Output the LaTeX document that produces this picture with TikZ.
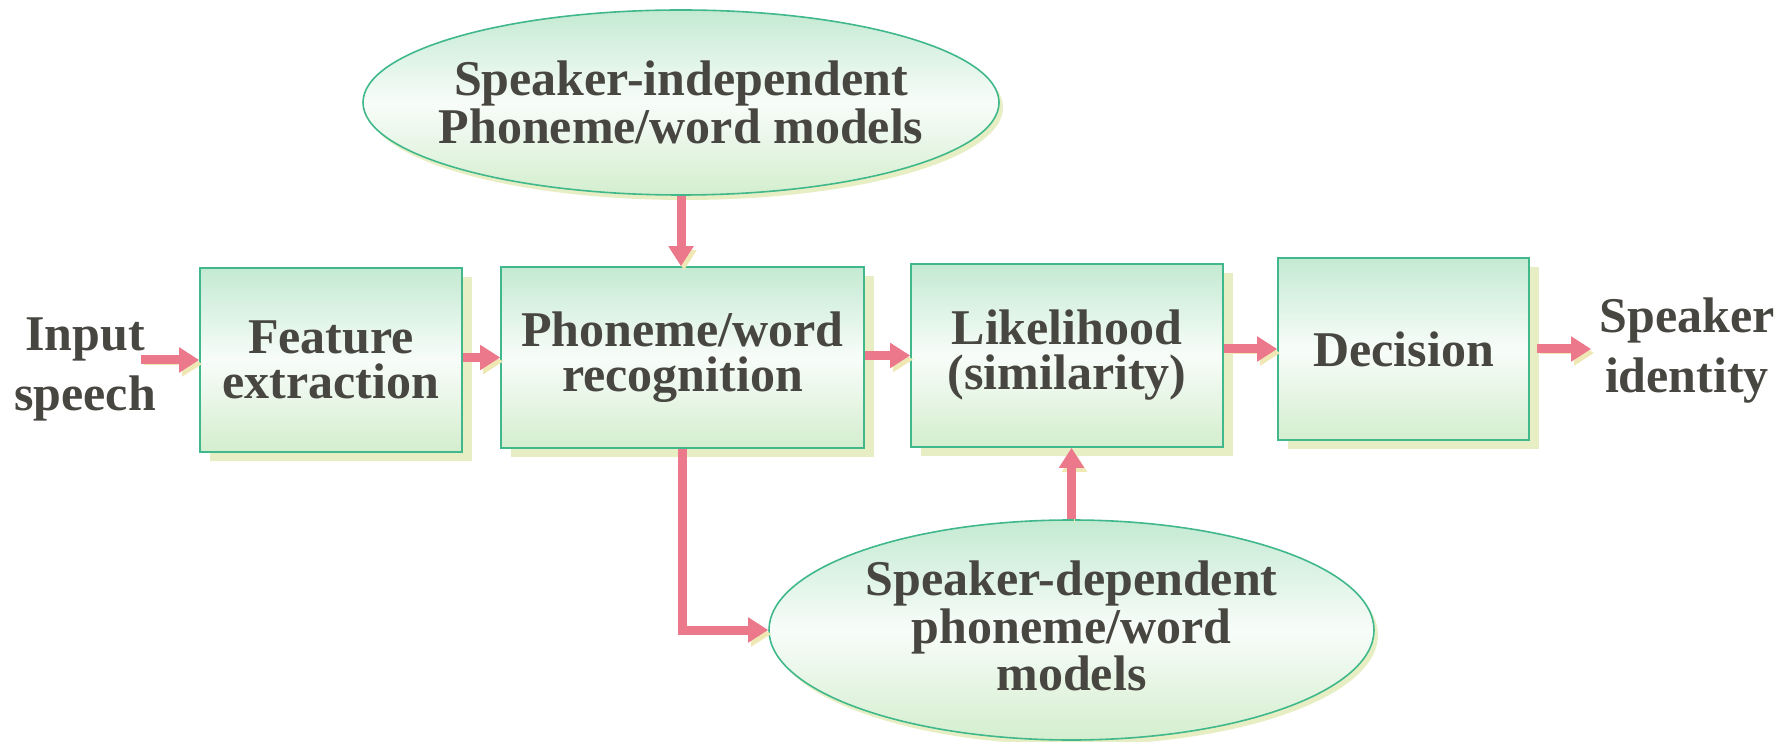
\documentclass[tikz,border=0pt]{standalone}
\usepackage{fontspec}
\setmainfont{Liberation Serif}
\usetikzlibrary{arrows.meta,shapes.geometric}
\definecolor{txt}{RGB}{72,70,64}
\definecolor{edge}{RGB}{64,184,140}
\definecolor{boxg}{RGB}{196,234,210}
\definecolor{boxy}{RGB}{212,238,206}
\definecolor{shad}{RGB}{232,238,196}
\definecolor{pk}{RGB}{236,120,140}
\definecolor{pkshad}{RGB}{240,232,180}
\begin{document}
\begin{tikzpicture}[x=0.5pt,y=-0.5pt,
  lbl/.style={font=\fontsize{25}{22.5}\selectfont\bfseries, text=txt, align=center, inner sep=0pt},
  outlbl/.style={font=\fontsize{25}{30}\selectfont\bfseries, text=txt, align=center, inner sep=0pt},
  blk/.style={lbl, rectangle, draw=edge, line width=0.8pt,
    top color=boxg, bottom color=boxy, middle color=white!88!boxg,
    preaction={fill=shad, transform canvas={shift={(5pt,-4.5pt)}}}},
  ell/.style={ellipse, draw=edge, line width=0.8pt, inner sep=0pt,
    top color=boxg, bottom color=boxy, middle color=white!88!boxg,
    preaction={fill=shad, transform canvas={shift={(2pt,-2.5pt)}}}},
  flow/.style={draw=pk, line width=4.5pt, -{Triangle[length=10pt,width=12pt]},
    preaction={draw=pkshad, transform canvas={shift={(1.5pt,-2pt)}}}},
]
\useasboundingbox (0,0) rectangle (1791,742);

% nodes
\node[outlbl] (in) at (85,369) {Input\\speech};
\node[blk, minimum width=131pt, minimum height=92pt] (fe) at (331,360) {Feature\\extraction};
\node[blk, minimum width=181.5pt, minimum height=90.5pt] (ph) at (682.5,357.5) {Phoneme/word\\recognition};
\node[blk, minimum width=156pt, minimum height=91.5pt] (lk) at (1067,355.5) {Likelihood\\(similarity)};
\node[blk, minimum width=125.5pt, minimum height=91pt] (de) at (1403.5,349) {Decision};
\node[outlbl] (out) at (1687,351) {Speaker\\identity};

\node[ell, minimum width=318pt, minimum height=92.5pt] (sim) at (681,102.5) {};
\node[lbl] (simt) at (sim.center) {Speaker-independent\\Phoneme/word models};
\node[ell, minimum width=302.5pt, minimum height=110pt] (sdm) at (1071.5,630) {};
\node[lbl] (sdmt) at ([yshift=2pt]sdm.center) {Speaker-dependent\\phoneme/word\\models};

% connectors
\draw[flow] ([xshift=-7.5pt]in.east |- fe.west) -- (fe.west);
\draw[flow] (fe.east |- ph.west) -- (ph.west);
\draw[flow] (ph.east |- lk.west) -- (lk.west);
\draw[flow] (lk.east |- de.west) -- (de.west);
\draw[flow] ([xshift=3.5pt]de.east) -- ([xshift=-4pt]out.west |- de.east);
\draw[flow] (sim.south) -- (sim.south |- ph.north);
\draw[flow] (ph.south) -- (ph.south |- sdm.west) -- (sdm.west);
\draw[flow] (sdm.north) -- (sdm.north |- lk.south);
\end{tikzpicture}
\end{document}
